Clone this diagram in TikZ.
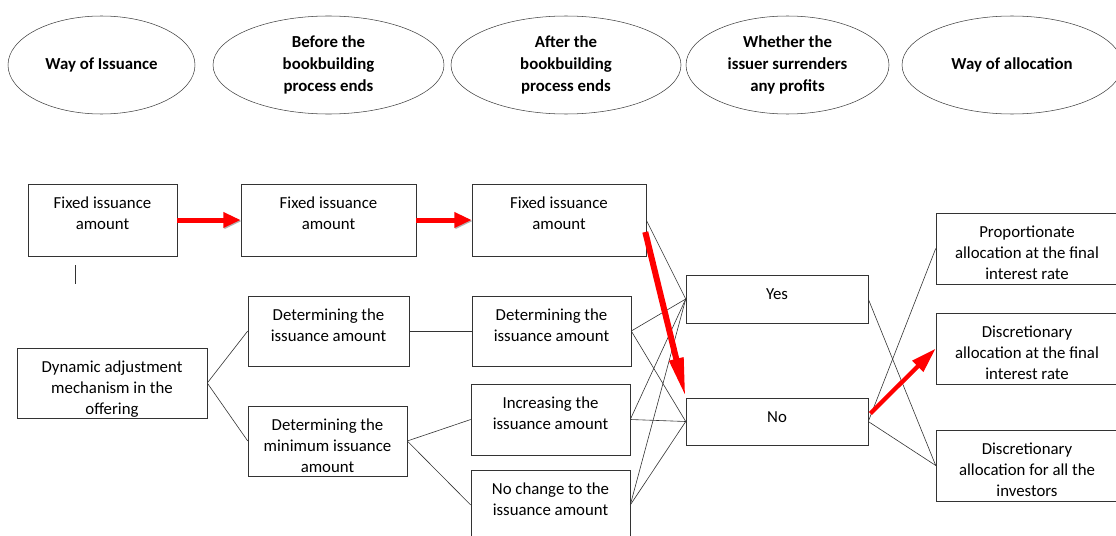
\documentclass[tikz,border=0pt]{standalone}
\usepackage{fontspec}
\setmainfont{Carlito}
\usetikzlibrary{shapes.geometric,arrows.meta,calc}

\tikzset{
	box/.style={draw=black!80,inner sep=0pt,font=\fontsize{12.6}{15.75}\selectfont},
	hdr/.style={draw=black!75,ellipse,inner sep=0pt,align=center,font=\fontsize{12.6}{16.5}\selectfont\bfseries},
	link/.style={draw=black!80,line width=0.45pt},
	redarr/.style={red,line width=3.75pt,-{Triangle[#1]},
		preaction={draw=black!30,transform canvas={xshift=0.8pt,yshift=-0.8pt}}},
	redarr/.default={length=13pt,width=11pt}
}
\newcommand{\boxtext}[3]{\parbox[c][#2][t]{#1}{\vspace*{7.5pt}\centering\strut #3}}

\begin{document}
\begin{tikzpicture}[x=0.75pt,y=-0.75pt]
	\useasboundingbox (0,0) rectangle (1116,535);
	
	%HEADINGS
	\node[hdr,minimum width=140.25pt,minimum height=73.5pt] (wayiss) at (101.5,65) {Way of Issuance};
	\node[hdr,minimum width=173.25pt,minimum height=73.5pt] (before) at (328.5,65) {Before the\\bookbuilding\\process ends};
	\node[hdr,minimum width=172.5pt,minimum height=73.5pt] (after) at (566,65) {After the\\bookbuilding\\process ends};
	\node[hdr,minimum width=152.25pt,minimum height=73.5pt] (profit) at (787.5,65) {Whether the\\issuer surrenders\\any profits};
	\node[hdr,minimum width=165pt,minimum height=73.5pt] (wayall) at (1012,65) {Way of allocation};
	
	%BOXES
	\node[box] (fix1) at (102.5,220) {\boxtext{111.75pt}{54pt}{Fixed issuance\\amount}};
	\node[box] (fix2) at (328.5,220) {\boxtext{131.25pt}{54pt}{Fixed issuance\\amount}};
	\node[box] (fix3) at (559,220) {\boxtext{130.5pt}{54pt}{Fixed issuance\\amount}};
	\node[box] (dyn) at (112,383) {\boxtext{142.5pt}{52.5pt}{Dynamic adjustment\\mechanism in the\\offering}};
	\node[box] (det1) at (328.5,331) {\boxtext{120.75pt}{52.5pt}{Determining the\\issuance amount}};
	\node[box] (detmin) at (327.5,441) {\boxtext{119.25pt}{52.5pt}{Determining the\\minimum issuance\\amount}};
	\node[box] (det2) at (551.5,331) {\boxtext{119.25pt}{52.5pt}{Determining the\\issuance amount}};
	\node[box] (incr) at (550.5,419.5) {\boxtext{119.25pt}{53.25pt}{Increasing the\\issuance amount}};
	\node[box] (nochg) at (550.5,505) {\boxtext{119.25pt}{52.5pt}{No change to the\\issuance amount}};
	\node[box] (yes) at (777,299) {\boxtext{136.5pt}{36pt}{Yes}};
	\node[box] (no) at (777,421.5) {\boxtext{136.5pt}{35.25pt}{No}};
	\node[box] (prop) at (1027,248.5) {\boxtext{136.5pt}{53.25pt}{Proportionate\\allocation at the final\\interest rate}};
	\node[box] (disc) at (1027,348.5) {\boxtext{136.5pt}{53.25pt}{Discretionary\\allocation at the final\\interest rate}};
	\node[box] (discall) at (1027,465.5) {\boxtext{136.5pt}{53.25pt}{Discretionary\\allocation for all the\\investors}};
	
	%THIN LINES
	\coordinate (tick) at (75,265);
	\draw[link] (tick) -- ++(0,19);
	\draw[link] (dyn.east) -- (det1.west);
	\draw[link] (dyn.east) -- (detmin.west);
	\draw[link] (det1.east) -- (det2.west);
	\draw[link] (detmin.east) -- (incr.west);
	\draw[link] (detmin.east) -- (nochg.west);
	\draw[link] (fix3.east) -- (yes.west);
	\foreach \s in {det2,incr,nochg}{
		\draw[link] (\s.east) -- (yes.west);
		\draw[link] (\s.east) -- (no.west);
	}
	\draw[link] (yes.east) -- (discall.west);
	\draw[link] (no.east) -- (prop.west);
	\draw[link] (no.east) -- (discall.west);
	
	%RED ARROWS
	\draw[redarr] (fix1.east) -- (fix2.west);
	\draw[redarr] (fix2.east) -- (fix3.west);
	\draw[redarr={length=30pt,width=10pt},line width=4.5pt] ($(fix3.east)+(-1,12)$) -- (no.north west);
	\draw[redarr={length=19pt,width=11pt},line width=3.2pt] ($(no.east)+(2,-8)$) -- (disc.west);
\end{tikzpicture}
\end{document}
